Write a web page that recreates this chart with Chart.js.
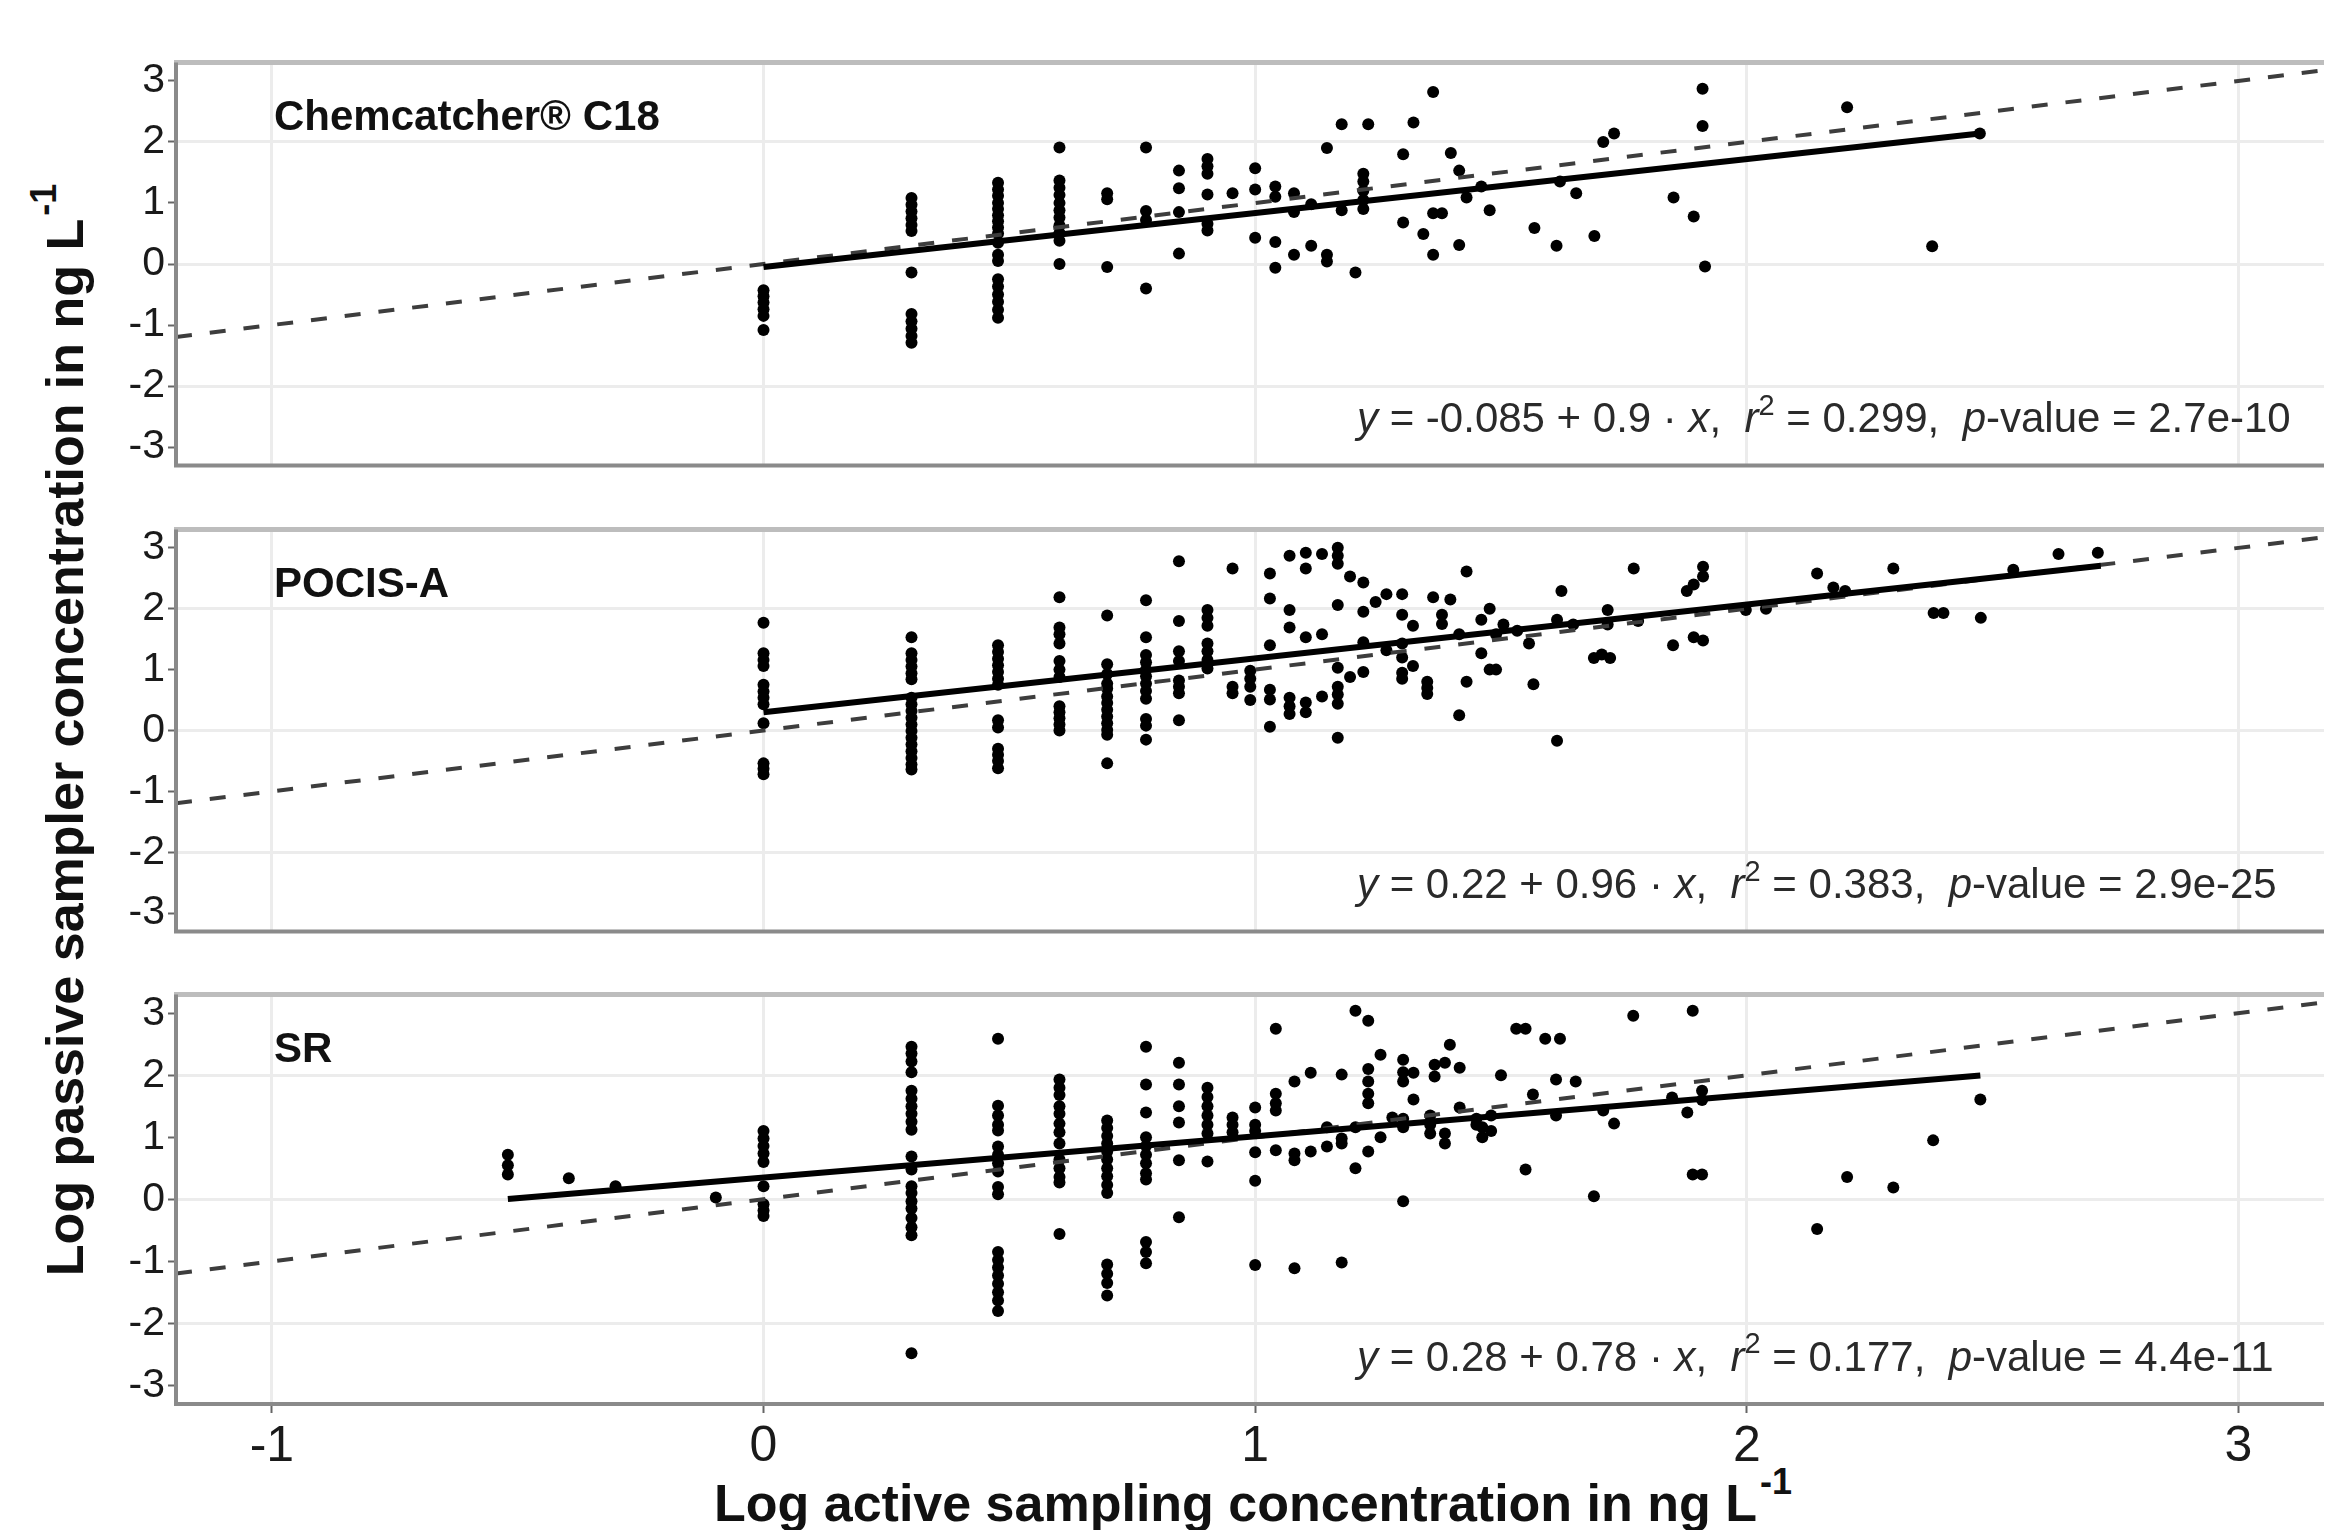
<!DOCTYPE html>
<html lang="en">
<head>
  <meta charset="UTF-8">
  <title>Passive vs active sampling concentrations</title>
  <style>
    html, body {
      margin: 0;
      padding: 0;
      background: #fff;
      overflow: hidden;
    }
    #page {
      position: relative;
      width: 2330px;
      height: 1530px;
      font-family: "Liberation Sans", Arial, sans-serif;
    }
    canvas {
      position: absolute;
      left: 0;
    }
    .axis-title {
      position: absolute;
      font-weight: bold;
      font-size: 52px;
      line-height: 52px;
      color: #111;
      white-space: nowrap;
      text-align: center;
    }
    .axis-title sup {
      font-size: 36px;
      vertical-align: baseline;
      position: relative;
      top: -27px;
      margin-left: 3px;
    }
    #xTitle { left: 176px; width: 2154px; top: 1477px; }
    #yTitle { left: -635px; width: 1400px; height: 52px; top: 703.5px; transform: rotate(-90deg); }
  </style>
  <script src="https://cdn.jsdelivr.net/npm/chart.js"></script>
</head>
<body>
  <div id="page">
    <div id="yTitle" class="axis-title">Log passive sampler concentration in ng L<sup>-1</sup></div>
    <div id="xTitle" class="axis-title">Log active sampling concentration in ng L<sup>-1</sup></div>
  </div>

  <script>
    // axis setup
    const xTicks = [-1, 0, 1, 2, 3];
    const yTicks = [-3, -2, -1, 0, 1, 2, 3];
    const xRange = [-1.195, 3.174];
    const yRange = [-3.3, 3.3];

    // panel labels and the printed regression equations
    const panelNames = ['Chemcatcher\u00ae C18', 'POCIS-A', 'SR'];
    const eqIntercept = ['-0.085', '0.22', '0.28'];
    const eqSlope = ['0.9', '0.96', '0.78'];
    const eqR2 = ['0.299', '0.383', '0.177'];
    const eqP = ['2.7e-10', '2.9e-25', '4.4e-11'];

    // the solid fit lines as drawn in the figure
    const fitIntercept = [-0.05, 0.30, 0.35];
    const fitSlope = [0.885, 0.885, 0.665];
    const fitFrom = [0, 0, -0.52];
    const fitTo = [2.474, 2.72, 2.475];

    // Chemcatcher C18: x levels and the y values found at each of them
    const chemX = [0, 0.301, 0.477, 0.602, 0.699, 0.778, 0.845, 0.903, 0.954, 1.0,
      1.041, 1.079, 1.114, 1.146, 1.176, 1.204, 1.22, 1.23, 1.301, 1.322,
      1.342, 1.362, 1.38, 1.398, 1.415, 1.43, 1.46, 1.477, 1.568, 1.613,
      1.62, 1.653, 1.69, 1.708, 1.73, 1.851, 1.892, 1.91, 1.915, 2.204,
      2.377, 2.474];
    const chemY = [
      [-0.43, -0.53, -0.63, -0.74, -0.85, -1.08],
      [1.08, 0.97, 0.86, 0.75, 0.64, 0.54, -0.14, -0.82, -0.94, -1.06, -1.18, -1.29],
      [1.33, 1.22, 1.12, 1.0, 0.9, 0.8, 0.7, 0.6, 0.5, 0.35, 0.15, 0.05, -0.25, -0.37, -0.5, -0.62, -0.75, -0.88],
      [1.91, 1.37, 1.25, 1.13, 1.0, 0.88, 0.76, 0.63, 0.51, 0.38, 0.0],
      [1.16, 1.06, -0.05],
      [1.91, 0.87, 0.72, -0.4],
      [1.53, 1.24, 0.85, 0.17],
      [1.72, 1.6, 1.48, 1.14, 0.66, 0.55],
      [1.16],
      [1.57, 1.22, 0.43],
      [1.27, 1.1, 0.36, -0.06],
      [1.16, 0.85, 0.15],
      [0.98, 0.3],
      [1.9, 0.15, 0.04],
      [2.29, 0.88],
      [-0.14],
      [1.48, 1.35, 1.2, 1.05, 0.9],
      [2.29],
      [1.8, 0.68],
      [2.32],
      [0.49],
      [2.82, 0.83, 0.15],
      [0.83],
      [1.82],
      [1.53, 0.31],
      [1.09],
      [1.27],
      [0.88],
      [0.59],
      [0.3],
      [1.35],
      [1.16],
      [0.46],
      [2.0],
      [2.14],
      [1.09],
      [0.78],
      [2.87, 2.26],
      [-0.04],
      [2.57],
      [0.29],
      [2.14]
    ];

    // POCIS-A
    const pocisX = [0, 0.301, 0.477, 0.602, 0.699, 0.778, 0.845, 0.903, 0.954, 0.99,
      1.03, 1.07, 1.103, 1.136, 1.168, 1.193, 1.22, 1.245, 1.267, 1.299,
      1.321, 1.35, 1.362, 1.38, 1.397, 1.415, 1.43, 1.46, 1.477, 1.49,
      1.505, 1.533, 1.557, 1.566, 1.614, 1.623, 1.647, 1.689, 1.705, 1.717,
      1.722, 1.77, 1.779, 1.85, 1.878, 1.892, 1.911, 1.998, 2.039, 2.143,
      2.176, 2.2, 2.298, 2.38, 2.4, 2.476, 2.542, 2.634, 2.714];
    const pocisY = [
      [1.77, 1.27, 1.16, 1.06, 0.75, 0.64, 0.54, 0.43, 0.12, -0.54, -0.63, -0.72],
      [1.53, 1.27, 1.16, 1.05, 0.94, 0.84, 0.54, 0.43, 0.32, 0.21, 0.1, -0.01, -0.12, -0.23, -0.34, -0.45, -0.56, -0.64],
      [1.4, 1.29, 1.18, 1.07, 0.96, 0.85, 0.75, 0.17, 0.05, -0.3, -0.4, -0.5, -0.62],
      [2.19, 1.69, 1.58, 1.43, 1.14, 1.0, 0.88, 0.4, 0.3, 0.2, 0.1, 0.0],
      [1.89, 1.09, 0.93, 0.77, 0.69, 0.56, 0.45, 0.34, 0.23, 0.12, 0.01, -0.07, -0.54],
      [2.14, 1.53, 1.24, 1.12, 1.0, 0.89, 0.77, 0.65, 0.52, 0.19, 0.08, -0.15],
      [2.78, 1.8, 1.3, 1.14, 0.82, 0.72, 0.61, 0.17],
      [1.98, 1.85, 1.72, 1.43, 1.3, 1.16, 1.02],
      [2.66, 0.72, 0.61],
      [0.98, 0.85, 0.72, 0.5],
      [2.58, 2.17, 1.4, 0.67, 0.51, 0.06],
      [2.87, 1.98, 1.69, 0.54, 0.4, 0.27],
      [2.92, 2.66, 1.53, 0.46, 0.3],
      [2.9, 1.58, 0.56],
      [3.0, 2.87, 2.74, 2.06, 1.03, 0.72, 0.59, 0.44, -0.12],
      [2.53, 0.88],
      [2.43, 1.95, 1.45, 0.96],
      [2.11],
      [2.24, 1.32],
      [2.24, 1.9, 1.43, 1.2, 0.95, 0.85],
      [1.72, 1.06],
      [0.8, 0.7, 0.6],
      [2.19],
      [1.9, 1.75],
      [2.15],
      [1.58, 0.25],
      [2.61, 0.8],
      [1.82, 1.27],
      [2.0, 1.0],
      [1.58, 1.0],
      [1.74],
      [1.64],
      [1.43],
      [0.76],
      [1.82, -0.17],
      [2.29],
      [1.74],
      [1.19],
      [1.25],
      [1.98, 1.74],
      [1.19],
      [2.66],
      [1.8],
      [1.4],
      [2.29],
      [2.4, 1.53],
      [2.69, 2.53, 1.48],
      [1.98],
      [2.0],
      [2.58],
      [2.35],
      [2.29],
      [2.66],
      [1.93],
      [1.93],
      [1.85],
      [2.64],
      [2.9],
      [2.92]
    ];

    // SR
    const srX = [-0.52, -0.396, -0.301, -0.097, 0, 0.301, 0.477, 0.602, 0.699, 0.778,
      0.845, 0.903, 0.954, 1.0, 1.042, 1.08, 1.113, 1.146, 1.176, 1.204,
      1.23, 1.255, 1.279, 1.301, 1.322, 1.356, 1.365, 1.386, 1.396, 1.416,
      1.45, 1.462, 1.48, 1.5, 1.531, 1.55, 1.565, 1.59, 1.612, 1.62,
      1.652, 1.689, 1.708, 1.73, 1.769, 1.848, 1.879, 1.89, 1.909, 2.143,
      2.204, 2.298, 2.379, 2.475];
    const srY = [
      [0.72, 0.55, 0.4],
      [0.34],
      [0.21],
      [0.03],
      [1.1, 0.98, 0.86, 0.74, 0.6, 0.21, -0.08, -0.18, -0.27],
      [2.46, 2.35, 2.22, 2.05, 1.75, 1.62, 1.5, 1.38, 1.25, 1.12, 0.69, 0.48, 0.21, 0.1, -0.03, -0.15, -0.3, -0.45, -0.58, -2.48],
      [2.59, 1.51, 1.35, 1.2, 1.11, 0.85, 0.72, 0.58, 0.45, 0.2, 0.08, -0.85, -0.98, -1.1, -1.23, -1.36, -1.5, -1.63, -1.8],
      [1.93, 1.8, 1.68, 1.5, 1.38, 1.22, 1.08, 0.9, 0.64, 0.5, 0.36, 0.27, -0.56],
      [1.27, 1.15, 1.02, 0.9, 0.77, 0.64, 0.5, 0.37, 0.23, 0.1, -1.05, -1.2, -1.35, -1.55],
      [2.46, 1.85, 1.4, 1.0, 0.86, 0.72, 0.58, 0.42, 0.32, -0.69, -0.85, -1.03],
      [2.2, 1.85, 1.5, 1.24, 0.63, -0.29],
      [1.8, 1.65, 1.5, 1.35, 1.2, 1.06, 0.61],
      [1.32, 1.2, 1.08],
      [1.48, 1.2, 1.1, 0.76, 0.3, -1.06],
      [2.75, 1.7, 1.55, 1.43, 0.79],
      [1.9, 0.74, 0.63, -1.11],
      [2.04, 0.77],
      [1.16, 0.85],
      [2.01, 0.98, 0.9, -1.02],
      [3.04, 1.16, 0.5],
      [2.88, 2.1, 1.9, 1.7, 1.55, 0.77],
      [2.33, 1.0],
      [1.32],
      [2.25, 2.05, 1.9, 1.3, 1.16, -0.03],
      [2.04, 1.61],
      [1.35, 1.2, 1.06],
      [2.17, 1.98],
      [2.2, 1.06, 0.9],
      [2.49],
      [2.12, 1.48],
      [1.3, 1.2],
      [1.16, 1.0],
      [1.35, 1.1],
      [2.0],
      [2.75],
      [2.75, 0.48],
      [1.69],
      [2.59],
      [1.93, 1.35],
      [2.59],
      [1.9],
      [0.05],
      [1.43],
      [1.22],
      [2.96],
      [1.64],
      [1.4],
      [3.04, 0.4],
      [1.75, 1.6, 0.4],
      [-0.48],
      [0.36],
      [0.19],
      [0.95],
      [1.61]
    ];

    // page layout (pixels)
    const PAGE_W = 2330;
    const PAGE_H = 1530;
    const PLOT_LEFT = 176;
    const PANEL_TOP = [55, 522, 987];
    const PANEL_BOTTOM = [473, 939, 1404];
    const FONT = '"Liberation Sans", Arial, sans-serif';

    Chart.defaults.font.family = FONT;

    // turn x levels + y lists into {x, y} points
    function toPoints(xs, ys) {
      const pts = [];
      xs.forEach((x, i) => ys[i].forEach(y => pts.push({ x: x, y: y })));
      return pts;
    }

    // draws a run of text pieces (italic / superscript) left to right
    function drawPieces(ctx, pieces, x, y, size) {
      let cx = x;
      pieces.forEach(p => {
        const fs = p.sup ? Math.round(size * 0.7) : size;
        ctx.font = (p.it ? 'italic ' : '') + fs + 'px ' + FONT;
        ctx.fillText(p.t, cx, p.sup ? y - size * 0.42 : y);
        cx += ctx.measureText(p.t).width;
      });
    }

    // borders, panel label and equation
    const panelDecor = {
      id: 'panelDecor',
      afterDatasetsDraw(chart, args, opts) {
        const i = opts.index;
        const ctx = chart.ctx;
        const ca = chart.chartArea;
        ctx.save();

        ctx.lineCap = 'butt';
        ctx.strokeStyle = '#bdbdbd';
        ctx.lineWidth = 5;
        ctx.beginPath();
        ctx.moveTo(ca.left - 2, ca.top);
        ctx.lineTo(ca.right, ca.top);
        ctx.stroke();

        ctx.strokeStyle = '#8a8a8a';
        ctx.lineWidth = 4;
        ctx.beginPath();
        ctx.moveTo(ca.left, ca.top);
        ctx.lineTo(ca.left, ca.bottom);
        ctx.moveTo(ca.left - 2, ca.bottom);
        ctx.lineTo(ca.right, ca.bottom);
        ctx.stroke();

        ctx.fillStyle = '#111';
        ctx.textAlign = 'left';
        ctx.textBaseline = 'alphabetic';
        ctx.font = 'bold 42px ' + FONT;
        ctx.fillText(panelNames[i], ca.left + 98, ca.top + 67);

        ctx.fillStyle = '#2a2a2a';
        drawPieces(ctx, [
          { t: 'y', it: true },
          { t: ' = ' + eqIntercept[i] + ' + ' + eqSlope[i] + ' \u00b7 ' },
          { t: 'x', it: true },
          { t: ',  ' },
          { t: 'r', it: true },
          { t: '2', sup: true },
          { t: ' = ' + eqR2[i] + ',  ' },
          { t: 'p', it: true },
          { t: '-value = ' + eqP[i] }
        ], ca.left + 1181, ca.bottom - 33, 42);

        ctx.restore();
      }
    };

    function makePanel(i, xs, ys) {
      const isLast = i === 2;
      const pad = 20;
      const plotH = PANEL_BOTTOM[i] - PANEL_TOP[i];
      const top = PANEL_TOP[i] - pad;
      const h = isLast ? PAGE_H - top : plotH + 2 * pad;
      const xAxisH = isLast ? h - pad - plotH : 0;

      const canvas = document.createElement('canvas');
      canvas.width = PAGE_W;
      canvas.height = h;
      canvas.style.top = top + 'px';
      canvas.style.width = PAGE_W + 'px';
      canvas.style.height = h + 'px';
      document.getElementById('page').appendChild(canvas);

      const fitLine = [fitFrom[i], fitTo[i]].map(x => ({ x: x, y: fitIntercept[i] + fitSlope[i] * x }));
      const oneToOne = xRange.map(x => ({ x: x, y: x }));

      return new Chart(canvas, {
        type: 'scatter',
        data: {
          datasets: [
            {
              type: 'line',
              data: fitLine,
              borderColor: '#000',
              borderWidth: 6,
              pointRadius: 0,
              order: 1
            },
            {
              type: 'line',
              data: oneToOne,
              borderColor: '#3d3d3d',
              borderWidth: 4,
              borderDash: [16, 18],
              pointRadius: 0,
              order: 2
            },
            {
              data: toPoints(xs, ys),
              backgroundColor: '#000',
              borderWidth: 0,
              pointRadius: 6,
              order: 3
            }
          ]
        },
        options: {
          responsive: false,
          animation: false,
          devicePixelRatio: 1,
          events: [],
          layout: { padding: { top: pad, bottom: isLast ? 0 : pad, left: 0, right: 0 } },
          plugins: {
            legend: { display: false },
            tooltip: { enabled: false },
            panelDecor: { index: i }
          },
          scales: {
            x: {
              type: 'linear',
              min: xRange[0],
              max: xRange[1],
              afterBuildTicks: s => { s.ticks = xTicks.map(v => ({ value: v })); },
              afterFit: s => { s.height = xAxisH; },
              border: { display: false },
              grid: {
                color: '#ececec',
                lineWidth: 3,
                drawTicks: isLast,
                tickLength: 9,
                tickColor: '#666',
                tickWidth: 2
              },
              ticks: {
                display: isLast,
                font: { size: 50 },
                color: '#1a1a1a',
                padding: 4,
                maxRotation: 0,
                autoSkip: false,
                callback: v => String(v)
              }
            },
            y: {
              type: 'linear',
              min: yRange[0],
              max: yRange[1],
              afterBuildTicks: s => { s.ticks = yTicks.map(v => ({ value: v })); },
              afterFit: s => { s.width = PLOT_LEFT; },
              border: { display: false },
              grid: {
                // only the even values get a grid line
                color: c => (c.tick && c.tick.value % 2 === 0) ? '#ececec' : 'rgba(0,0,0,0)',
                lineWidth: 3,
                tickLength: 8,
                tickColor: '#666',
                tickWidth: 2
              },
              ticks: {
                font: { size: 41 },
                color: '#1a1a1a',
                padding: 3,
                autoSkip: false,
                callback: v => String(v)
              }
            }
          }
        },
        plugins: [panelDecor]
      });
    }

    makePanel(0, chemX, chemY);
    makePanel(1, pocisX, pocisY);
    makePanel(2, srX, srY);
  </script>
</body>
</html>
